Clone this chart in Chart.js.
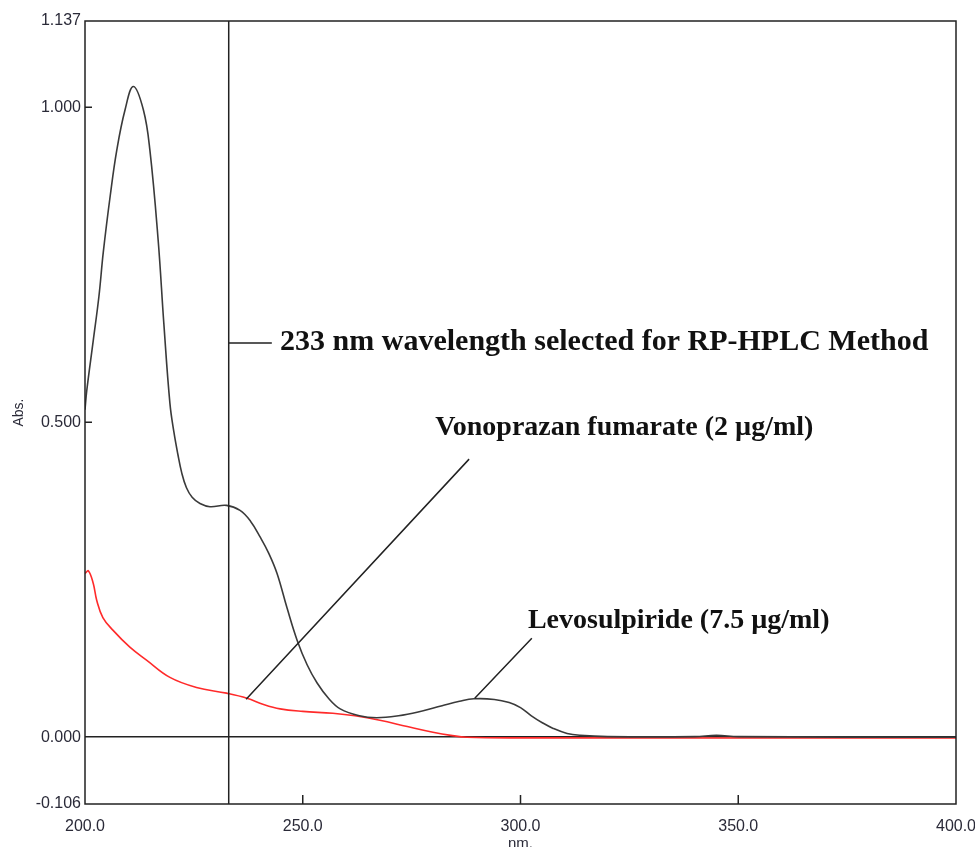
<!DOCTYPE html>
<html lang="en">
<head>
  <meta charset="UTF-8" />
  <title>UV spectrum</title>
  <script src="https://cdn.jsdelivr.net/npm/chart.js"></script>
  <style>
    html, body { margin: 0; padding: 0; background: #fff; }
    #wrap { width: 975px; height: 847px; }
  </style>
</head>
<body>
  <div id="wrap"><canvas id="spectrum"></canvas></div>

  <script>
    // wavelength (nm) / absorbance
    const levoNm  = [200, 200.4, 201.9, 203.2, 204.2, 205.8, 207.3, 209.2, 211.1, 213.4, 214.9, 216.8, 218.1, 219.5, 220.4, 221.3, 222.2, 223.3, 224.6, 226.4, 228.7, 232.5, 235.6, 238, 240.2, 242.2, 244.1, 246.4, 248.7, 251, 253.3, 256, 258.6, 263, 267, 272, 276.5, 282, 286, 289.3, 294, 297.4, 300, 302.5, 305, 307.5, 310.7, 313.7, 320, 340, 345, 350, 400];
    const levoAbs = [0.52, 0.55, 0.63, 0.70, 0.77, 0.86, 0.932, 0.996, 1.033, 0.996, 0.932, 0.789, 0.657, 0.53, 0.485, 0.45, 0.42, 0.396, 0.381, 0.371, 0.366, 0.368, 0.360, 0.343, 0.318, 0.292, 0.26, 0.205, 0.154, 0.115, 0.086, 0.061, 0.045, 0.034, 0.031, 0.034, 0.040, 0.050, 0.057, 0.061, 0.060, 0.055, 0.047, 0.034, 0.023, 0.014, 0.006, 0.003, 0.001, 0.001, 0.003, 0.001, 0.0];

    const vonoNm  = [200, 200.8, 201.9, 202.7, 204.1, 206.4, 210.3, 214.2, 219.5, 225.6, 232.5, 237.2, 241, 244.8, 250, 256.9, 262, 267.7, 274, 279.9, 284, 287.7, 300, 400];
    const vonoAbs = [0.26, 0.264, 0.244, 0.217, 0.19, 0.17, 0.143, 0.122, 0.095, 0.079, 0.070, 0.062, 0.052, 0.045, 0.041, 0.038, 0.034, 0.027, 0.017, 0.008, 0.003, 0.0, -0.001, -0.001];

    const xTicks = [200, 250, 300, 350, 400];
    const yTicks = [-0.106, 0, 0.5, 1.0, 1.137];
    const selectedNm = 233;

    function pairs(xs, ys) {
      return xs.map((x, i) => ({ x: x, y: ys[i] }));
    }

    const annotate = {
      id: 'annotate',
      afterDraw(chart) {
        const { ctx, chartArea: a, scales: { x, y } } = chart;
        const px = v => x.getPixelForValue(v);
        const py = v => y.getPixelForValue(v);
        ctx.save();
        ctx.strokeStyle = '#222';
        ctx.lineWidth = 1.5;

        // frame
        ctx.strokeRect(a.left, a.top, a.right - a.left, a.bottom - a.top);

        // inner tick marks
        ctx.beginPath();
        [0.5, 1.0].forEach(v => { ctx.moveTo(a.left, py(v)); ctx.lineTo(a.left + 7, py(v)); });
        [250, 300, 350].forEach(v => { ctx.moveTo(px(v), a.bottom); ctx.lineTo(px(v), a.bottom - 9); });
        ctx.stroke();

        // selected wavelength
        ctx.beginPath();
        ctx.moveTo(px(selectedNm), a.top);
        ctx.lineTo(px(selectedNm), a.bottom);
        ctx.moveTo(px(selectedNm), py(0.626));
        ctx.lineTo(px(242.9), py(0.626));
        // leaders
        ctx.moveTo(px(288.2), py(0.4415));
        ctx.lineTo(px(237.0), py(0.0603));
        ctx.moveTo(px(302.6), py(0.1572));
        ctx.lineTo(px(289.5), py(0.0619));
        ctx.stroke();

        ctx.fillStyle = '#111';
        ctx.textBaseline = 'alphabetic';
        ctx.font = 'bold 30px "Liberation Serif", "Times New Roman", serif';
        ctx.fillText('233 nm wavelength selected for RP-HPLC Method', px(244.8), py(0.6146));
        ctx.font = 'bold 28px "Liberation Serif", "Times New Roman", serif';
        ctx.fillText('Vonoprazan fumarate (2 µg/ml)', px(280.4), py(0.4796));
        ctx.fillText('Levosulpiride (7.5 µg/ml)', px(301.7), py(0.1731));
        ctx.restore();
      }
    };

    new Chart(document.getElementById('spectrum'), {
      type: 'line',
      data: {
        datasets: [
          {
            label: 'Levosulpiride (7.5 µg/ml)',
            data: pairs(levoNm, levoAbs),
            borderColor: '#3a3a3a',
            borderWidth: 1.6,
            pointRadius: 0,
            tension: 0.4
          },
          {
            label: 'Vonoprazan fumarate (2 µg/ml)',
            data: pairs(vonoNm, vonoAbs),
            borderColor: '#ff2a2a',
            borderWidth: 1.6,
            pointRadius: 0,
            tension: 0.4
          }
        ]
      },
      options: {
        responsive: true,
        maintainAspectRatio: false,
        animation: false,
        layout: { padding: { top: 21, right: 19, left: 0, bottom: 0 } },
        plugins: { legend: { display: false }, tooltip: { enabled: false } },
        scales: {
          x: {
            type: 'linear',
            min: 200,
            max: 400,
            afterBuildTicks: s => { s.ticks = xTicks.map(v => ({ value: v })); },
            afterFit: s => { s.height = 43; s.paddingLeft = 0; s.paddingRight = 0; },
            grid: { display: false },
            border: { display: false },
            ticks: {
              color: '#2a2a38',
              padding: 5,
              maxRotation: 0,
              font: { family: '"Liberation Sans", Arial, sans-serif', size: 16 },
              callback: v => Number(v).toFixed(1)
            },
            title: {
              display: true,
              text: 'nm.',
              color: '#2a2a38',
              padding: { top: 0, bottom: -4 },
              font: { family: '"Liberation Sans", Arial, sans-serif', size: 15, lineHeight: 1 }
            }
          },
          y: {
            type: 'linear',
            min: -0.106,
            max: 1.137,
            afterBuildTicks: s => { s.ticks = yTicks.map(v => ({ value: v })); },
            afterFit: s => { s.width = 85; },
            grid: {
              drawTicks: false,
              lineWidth: 1.5,
              color: c => (c.tick && c.tick.value === 0 ? '#222' : 'rgba(0,0,0,0)')
            },
            border: { display: false },
            ticks: {
              color: '#2a2a38',
              padding: 4,
              font: { family: '"Liberation Sans", Arial, sans-serif', size: 16 },
              callback: v => Number(v).toFixed(3)
            },
            title: {
              display: true,
              text: 'Abs.',
              color: '#2a2a38',
              padding: { top: 11, bottom: 0 },
              font: { family: '"Liberation Sans", Arial, sans-serif', size: 14 }
            }
          }
        }
      },
      plugins: [annotate]
    });
  </script>
</body>
</html>
